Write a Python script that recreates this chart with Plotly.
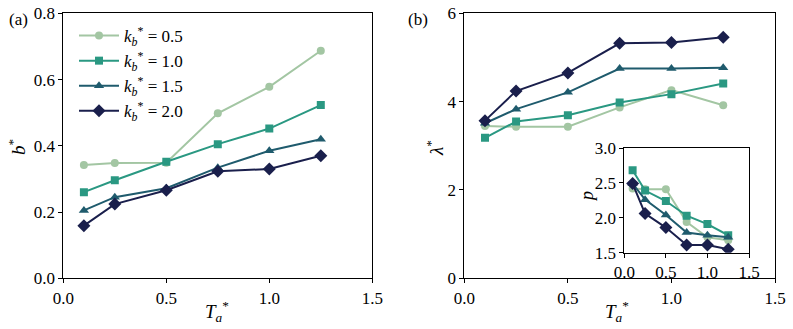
import plotly.graph_objects as go

T = [0.1, 0.25, 0.5, 0.75, 1.0, 1.25]
kb_labels = ["0.5", "1.0", "1.5", "2.0"]
b_star = [
    [0.342, 0.348, 0.349, 0.498, 0.578, 0.687],
    [0.260, 0.296, 0.352, 0.405, 0.452, 0.523],
    [0.205, 0.245, 0.272, 0.334, 0.385, 0.420],
    [0.159, 0.224, 0.266, 0.323, 0.330, 0.370],
]
lam_star = [
    [3.45, 3.43, 3.43, 3.87, 4.26, 3.92],
    [3.18, 3.55, 3.69, 3.98, 4.17, 4.41],
    [3.51, 3.83, 4.21, 4.75, 4.75, 4.77],
    [3.57, 4.24, 4.65, 5.32, 5.34, 5.46],
]
p_vals = [
    [2.42, 2.41, 2.41, 1.94, 1.72, 1.68],
    [2.68, 2.39, 2.24, 2.03, 1.91, 1.75],
    [2.49, 2.26, 2.04, 1.79, 1.75, 1.72],
    [2.49, 2.06, 1.86, 1.61, 1.61, 1.55],
]
colors = ["#a3c6a3", "#2a9882", "#1f5b6d", "#1a1f4c"]
symbols = ["circle", "square", "triangle-up", "diamond"]
msizes = [8, 8, 9, 10]

FONT = "Liberation Serif, DejaVu Serif, serif"
W, H = 793, 329


def fx(px):
    return px / W


def fy(py):
    return 1 - py / H


fig = go.Figure()

for i in range(4):
    common = dict(mode="lines+markers",
                  line=dict(color=colors[i], width=2),
                  marker=dict(symbol=symbols[i], size=msizes[i], color=colors[i]))
    fig.add_trace(go.Scatter(x=T, y=b_star[i], xaxis="x", yaxis="y",
                             name="<i>k</i><sub><i>b</i></sub><sup>*</sup> = " + kb_labels[i],
                             showlegend=True, **common))
    fig.add_trace(go.Scatter(x=T, y=lam_star[i], xaxis="x2", yaxis="y2",
                             showlegend=False, **common))
    fig.add_trace(go.Scatter(x=T, y=p_vals[i], xaxis="x3", yaxis="y3",
                             showlegend=False, **common))

axcommon = dict(showgrid=False, zeroline=False, showline=True, mirror=True,
                linecolor="black", linewidth=1, ticks="outside", ticklen=4,
                tickcolor="black", automargin=False, ticklabeloverflow="allow",
                tickfont=dict(family=FONT, size=17, color="black"))

fig.update_layout(
    width=W, height=H,
    margin=dict(l=0, r=0, t=0, b=0, pad=0, autoexpand=False),
    plot_bgcolor="white", paper_bgcolor="white",
    font=dict(family=FONT, color="black"),
    xaxis=dict(domain=[fx(63.3), fx(372.3)], range=[0, 1.5], tickvals=[0, 0.5, 1.0, 1.5],
               ticktext=["0.0", "0.5", "1.0", "1.5"], anchor="y", **axcommon),
    yaxis=dict(domain=[fy(278.3), fy(13.3)], range=[0, 0.8], tickvals=[0, 0.2, 0.4, 0.6, 0.8],
               ticktext=["0.0", "0.2", "0.4", "0.6", "0.8"], anchor="x", **axcommon),
    xaxis2=dict(domain=[fx(464.3), fx(775)], range=[0, 1.5], tickvals=[0, 0.5, 1.0, 1.5],
                ticktext=["0.0", "0.5", "1.0", "1.5"], anchor="y2", **axcommon),
    yaxis2=dict(domain=[fy(278.3), fy(13.3)], range=[0, 6], tickvals=[0, 2, 4, 6],
                anchor="x2", **axcommon),
    xaxis3=dict(domain=[fx(624.3), fx(749)], range=[0, 1.5], tickvals=[0, 0.5, 1.0, 1.5],
                ticktext=["0.0", "0.5", "1.0", "1.5"], anchor="y3", **axcommon),
    yaxis3=dict(domain=[fy(252.7), fy(148)], range=[1.5, 3.0], tickvals=[1.5, 2.0, 2.5, 3.0],
                ticktext=["1.5", "2.0", "2.5", "3.0"], anchor="x3", **axcommon),
    legend=dict(x=fx(74), y=fy(18), xanchor="left", yanchor="top",
                bgcolor="rgba(255,255,255,0)", borderwidth=0,
                font=dict(family=FONT, size=17, color="black"),
                itemwidth=40, tracegroupgap=0),
)

ann = dict(xref="paper", yref="paper", showarrow=False, xanchor="center", yanchor="middle")
fig.add_annotation(text="(a)", x=fx(18), y=fy(19), font=dict(family=FONT, size=17), **ann)
fig.add_annotation(text="(b)", x=fx(418), y=fy(19), font=dict(family=FONT, size=17), **ann)
fig.add_annotation(text="<i>b</i><sup>*</sup>", x=fx(17), y=fy(147), textangle=-90,
                   font=dict(family=FONT, size=19), **ann)
fig.add_annotation(text="<i>λ</i><sup>*</sup>", x=fx(435), y=fy(148), textangle=-90,
                   font=dict(family=FONT, size=19), **ann)
fig.add_annotation(text="<i>p</i>", x=fx(587), y=fy(197), textangle=-90,
                   font=dict(family=FONT, size=18), **ann)
fig.add_annotation(text="<i>T</i><sub><i>a</i></sub><sup>*</sup>", x=fx(217), y=fy(311),
                   font=dict(family=FONT, size=19), **ann)
fig.add_annotation(text="<i>T</i><sub><i>a</i></sub><sup>*</sup>", x=fx(617), y=fy(311),
                   font=dict(family=FONT, size=19), **ann)

fig.write_html("out.html", config={"displayModeBar": False},
               post_script="document.body.style.margin='0px';")
